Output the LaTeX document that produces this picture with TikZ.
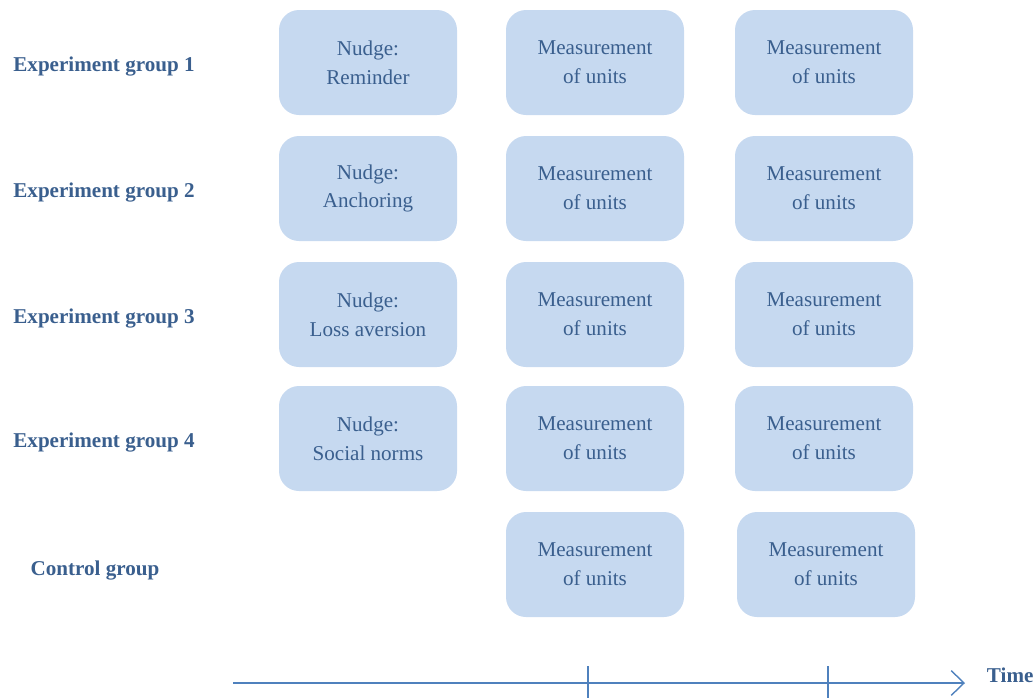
\documentclass[tikz,border=0pt]{standalone}
\usepackage{fontspec}
\setmainfont{Liberation Serif}
\usetikzlibrary{positioning,arrows.meta}

\definecolor{boxfill}{HTML}{C6D9F0}
\definecolor{boxtext}{HTML}{3A5F8E}
\definecolor{axisline}{HTML}{4F81BD}

\begin{document}
\begin{tikzpicture}[
            stage/.style={
                fill=boxfill,
                rounded corners=0.5cm,
                minimum width=4.45cm,
                minimum height=2.625cm,
                text=boxtext,
                font=\fontsize{15}{20.5}\selectfont,
                align=center
            },
            grp/.style={
                text=boxtext,
                font=\fontsize{15}{18}\selectfont\bfseries
            }
        ]
            \useasboundingbox (0,0) rectangle (25.875,-17.45);

            % experiment groups: nudge, then two measurements
            \foreach \n/\nudge/\y/\ly in {
                1/Reminder/-1.5625/-1.67,
                2/Anchoring/-4.7125/-4.82,
                3/Loss aversion/-7.8625/-7.97,
                4/Social norms/-10.9625/-11.07
            } {
                \node[grp] (label\n) at (2.6,\ly) {Experiment group \n};
                \node[stage] (nudge\n) at (9.2,\y) {Nudge:\\\nudge};
                \node[stage] (first\n) at (14.875,\y) {Measurement\\of units};
                \node[stage] (second\n) at (20.6,\y) {Measurement\\of units};
            }

            % control group: measurements only
            \node[grp] (label5) at (2.375,-14.25) {Control group};
            \node[stage] (first5) at (14.875,-14.1125) {Measurement\\of units};
            \node[stage] (second5) at (20.65,-14.1125) {Measurement\\of units};

            % time axis
            \coordinate (start) at (5.825,-17.075);
            \coordinate (end) at (24.125,-17.075);
            \draw[axisline, line width=1.6pt, -{Straight Barb[length=3.2mm,width=6.2mm,line width=1pt]}] (start) -- (end);
            \node[grp, anchor=west] (time) at (24.55,-16.875) {Time};
            \foreach \x in {14.7,20.7}
                \draw[axisline, line width=0.9pt] (\x,-16.65) -- (\x,-17.45);
        \end{tikzpicture}
\end{document}
